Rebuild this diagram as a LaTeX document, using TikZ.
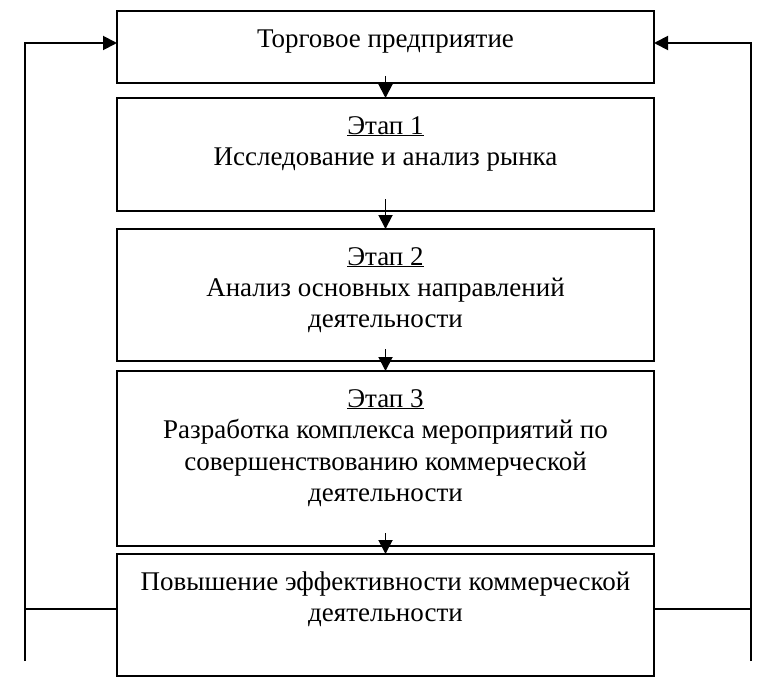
\documentclass[tikz,border=0pt]{standalone}
\usepackage{fontspec}
\setmainfont{Liberation Serif}
\usetikzlibrary{arrows.meta,calc}
\tikzset{
  box/.style={draw, line width=1.9pt, rectangle, inner sep=0pt, outer sep=0pt, anchor=north west, minimum width=537pt},
  lbl/.style={anchor=base, inner sep=0pt, font=\fontsize{27}{31}\selectfont},
  conn/.style={line width=1.9pt},
  arr/.style={line width=1.9pt, -{Triangle[length=14pt,width=14pt]}}
}
\begin{document}
\begin{tikzpicture}[x=1pt,y=-1pt]
\useasboundingbox (0,0) rectangle (775,682);
% boxes
\node[box, minimum height=72pt]  (b1) at (117,11)  {};
\node[box, minimum height=113pt] (b2) at (117,98)  {};
\node[box, minimum height=132pt] (b3) at (117,229) {};
\node[box, minimum height=175pt] (b4) at (117,371) {};
\node[box, minimum height=122pt] (b5) at (117,554) {};
% texts
\node[lbl] (t1) at (385.5,48) {Торговое предприятие};
\node[lbl] (t2a) at (385.5,134) {\underline{Этап 1}};
\node[lbl] (t2b) at (385.5,165) {Исследование и анализ рынка};
\node[lbl] (t3a) at (385.5,265) {\underline{Этап 2}};
\node[lbl] (t3b) at (385.5,296) {Анализ основных направлений};
\node[lbl] (t3c) at (385.5,327) {деятельности};
\node[lbl] (t4a) at (385.5,407) {\underline{Этап 3}};
\node[lbl] (t4b) at (385.5,438.5) {Разработка комплекса мероприятий по};
\node[lbl] (t4c) at (385.5,470) {совершенствованию коммерческой};
\node[lbl] (t4d) at (385.5,501) {деятельности};
\node[lbl] (t5a) at (385.5,590) {Повышение эффективности коммерческой};
\node[lbl] (t5b) at (385.5,621) {деятельности};
% vertical arrows
\draw[arr] ($(b1.south)+(0,-7)$) -- (b2.north);
\draw[arr] ($(b2.south)+(0,-12)$) -- (b3.north);
\draw[arr] ($(b3.south)+(0,-12)$) -- (b4.north);
\draw[arr] ($(b4.south)+(0,-13)$) -- (b5.north);
% feedback loops
\coordinate (lb) at (25,661);
\coordinate (lt) at (25,43);
\coordinate (lm) at (25,609);
\coordinate (rb) at (751,661);
\coordinate (rt) at (751,43);
\coordinate (rm) at (751,609);
\draw[arr] (lb) -- (lt) -- (b1.west |- lt);
\draw[conn] (lm) -- (b5.west |- lm);
\draw[arr] (rb) -- (rt) -- (b1.east |- rt);
\draw[conn] (rm) -- (b5.east |- rm);
\end{tikzpicture}
\end{document}
